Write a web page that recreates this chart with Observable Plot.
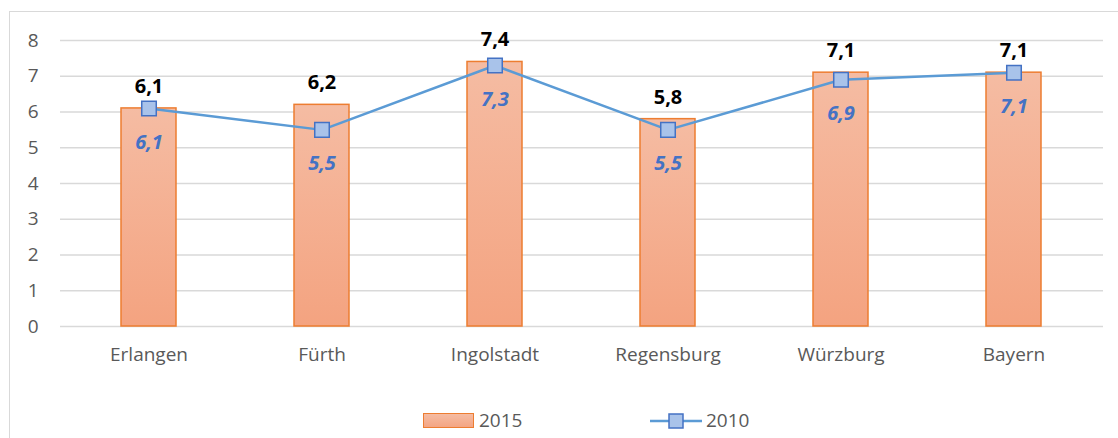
<!DOCTYPE html>
<html>
<head>
<meta charset="utf-8">
<script src="https://cdn.jsdelivr.net/npm/d3@7"></script>
<script src="https://cdn.jsdelivr.net/npm/@observablehq/plot@0.6"></script>
<style>
  html, body { margin: 0; padding: 0; background: #fff; }
  #wrap { position: relative; width: 1118px; height: 438px; overflow: hidden; font-family: "Open Sans", "Noto Sans", sans-serif; }
  #frame { position: absolute; left: 9px; top: 11px; width: 1200px; height: 500px; border-left: 1.5px solid #d9d9d9; border-top: 1.5px solid #d9d9d9; }
  #chart { position: absolute; left: 0; top: 0; }
  #legend { position: absolute; left: 0; top: 404px; width: 1118px; height: 34px; }
  .lg { position: absolute; font-size: 19px; color: #595959; line-height: 20px; }
</style>
</head>
<body>
<div id="wrap">
  <div id="frame"></div>
  <div id="chart"></div>
  <div id="legend">
    <div style="position:absolute;left:423px;top:9px;width:49px;height:13px;border:1.5px solid #ED7D31;background:linear-gradient(#F5BCA3,#F4A583);"></div>
    <div class="lg" style="left:479px;top:6px;">2015</div>
    <svg style="position:absolute;left:648px;top:6px;" width="60" height="22">
      <line x1="2" y1="11" x2="54" y2="11" stroke="#5B9BD5" stroke-width="2.5"/>
      <rect x="21" y="4" width="14" height="14" fill="#A9C3EA" stroke="#4472C4" stroke-width="1.5"/>
    </svg>
    <div class="lg" style="left:706px;top:6px;">2010</div>
  </div>
</div>
<script>
const categories = ["Erlangen", "Fürth", "Ingolstadt", "Regensburg", "Würzburg", "Bayern"];
const values2015 = [6.1, 6.2, 7.4, 5.8, 7.1, 7.1];
const values2010 = [6.1, 5.5, 7.3, 5.5, 6.9, 7.1];
const yTicks = [0, 1, 2, 3, 4, 5, 6, 7, 8];

const fmt = v => v.toFixed(1).replace(".", ",");
const data = categories.map((c, i) => ({cat: c, v15: values2015[i], v10: values2010[i]}));

const defs = () => {
  const ns = "http://www.w3.org/2000/svg";
  const d = document.createElementNS(ns, "defs");
  d.innerHTML = `<linearGradient id="barGrad" x1="0" y1="0" x2="0" y2="1">
      <stop offset="0" stop-color="#F5BCA3"/>
      <stop offset="1" stop-color="#F4A380"/>
    </linearGradient>`;
  return d;
};

const chart = Plot.plot({
  width: 1118,
  height: 400,
  marginLeft: 60,
  marginRight: 15,
  marginTop: 40,
  marginBottom: 74,
  style: {fontFamily: "'Open Sans', 'Noto Sans', sans-serif", background: "transparent"},
  x: {domain: categories, paddingInner: 0.68, paddingOuter: 0.34, label: null},
  y: {domain: [0, 8], label: null},
  marks: [
    defs,
    Plot.ruleY(yTicks, {stroke: "#d9d9d9", strokeWidth: 1.5}),
    Plot.axisY({ticks: yTicks, tickSize: 0, tickPadding: 22, fontSize: 19, fill: "#595959", tickFormat: d => String(d), label: null}),
    Plot.axisX({tickSize: 0, tickPadding: 21, fontSize: 19, fill: "#595959", label: null}),
    Plot.barY(data, {x: "cat", y: "v15", fill: "url(#barGrad)", stroke: "#ED7D31", strokeWidth: 1.5}),
    Plot.line(data, {x: "cat", y: "v10", stroke: "#5B9BD5", strokeWidth: 2.5}),
    Plot.dot(data, {x: "cat", y: "v10", symbol: "square", r: 8.2, fill: "#A9C3EA", stroke: "#4472C4", strokeWidth: 1.5}),
    Plot.text(data, {x: "cat", y: "v15", text: d => fmt(d.v15), dy: -22, fontSize: 20, fontWeight: "bold", fill: "#000"}),
    Plot.text(data, {x: "cat", y: "v10", text: d => fmt(d.v10), dy: 34, fontSize: 20, fontWeight: "bold", fontStyle: "italic", fill: "#4472C4"})
  ]
});
document.getElementById("chart").appendChild(chart);
</script>
</body>
</html>
